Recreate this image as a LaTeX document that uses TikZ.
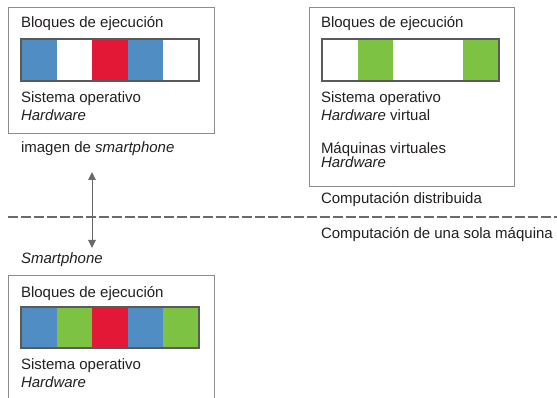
\documentclass[tikz,border=0pt]{standalone}
\usepackage{fontspec}
\setmainfont{Liberation Sans}
\usetikzlibrary{arrows.meta}
\definecolor{cblue}{HTML}{4F8DC3}
\definecolor{cred}{HTML}{E31837}
\definecolor{cgreen}{HTML}{7DC242}
\definecolor{cframe}{HTML}{8C8C8C}
\definecolor{cstrip}{HTML}{5A5A5A}
\definecolor{cline}{HTML}{6A6A6A}
\definecolor{ctext}{HTML}{231F20}
\tikzset{
  lbl/.style={anchor=base west, inner sep=0pt, outer sep=0pt, text=ctext, font=\fontsize{15}{17}\selectfont},
  frame/.style={draw=cframe, line width=1pt},
  strip/.style={draw=cstrip, line width=1.8pt},
  divider/.style={draw=cline, line width=2.2pt, dash pattern=on 9.5pt off 3.5pt},
  link/.style={draw=cline, line width=1pt, {Triangle[width=7.5pt,length=8pt]}-{Triangle[width=7.5pt,length=8pt]}},
}
\begin{document}
\begin{tikzpicture}[x=1pt,y=-1pt]
\useasboundingbox (0,0) rectangle (557,398);
\begin{scope}
\clip (0,0) rectangle (557,398);
% top-left box
\draw[frame] (8,8) rectangle (214,134);
\node[lbl] (tlb) at (21,28) {Bloques de ejecución};
\fill[cblue] (21,39) rectangle (56.6,81);
\fill[cred] (92.2,39) rectangle (127.8,81);
\fill[cblue] (127.8,39) rectangle (163.4,81);
\draw[strip] (21,39) rectangle (199,81);
\node[lbl] (tls) at (21,103) {Sistema operativo};
\node[lbl] (tlh) at (21,121) {\itshape Hardware};
\node[lbl] (img) at (21,153) {imagen de \textit{smartphone}};
% right box
\draw[frame] (309,8) rectangle (514,187);
\node[lbl] (rb) at (321,28) {Bloques de ejecución};
\fill[cgreen] (357.6,39) rectangle (393.2,81);
\fill[cgreen] (463,39) rectangle (499,81);
\draw[strip] (322,39) rectangle (499,81);
\node[lbl] (rs) at (321,103) {Sistema operativo};
\node[lbl] (rh) at (321,121) {\textit{Hardware} virtual};
\node[lbl] (rm) at (321,154) {Máquinas virtuales};
\node[lbl] (rhw) at (321,168) {\itshape Hardware};
\node[lbl] (cd) at (321,204) {Computación distribuida};
% divider
\coordinate (dl) at (8,217);
\coordinate (dr) at (557,217);
\draw[divider] (dl) -- (dr);
\node[lbl] (cu) at (321,239) {Computación de una sola máquina};
% arrow
\coordinate (at) at (92,172);
\coordinate (ab) at (92,248);
\draw[link] (at) -- (ab);
% bottom box
\node[lbl] (sp) at (21,264) {\itshape Smartphone};
\draw[frame] (8,275) rectangle (214,410);
\node[lbl] (bb) at (21,297) {Bloques de ejecución};
\fill[cblue] (21,307) rectangle (56.6,348);
\fill[cgreen] (56.6,307) rectangle (92.2,348);
\fill[cred] (92.2,307) rectangle (127.8,348);
\fill[cblue] (127.8,307) rectangle (163.4,348);
\fill[cgreen] (163.4,307) rectangle (199,348);
\draw[strip] (21,307) rectangle (199,348);
\node[lbl] (bs) at (21,369) {Sistema operativo};
\node[lbl] (bh) at (21,387) {\itshape Hardware};
\end{scope}
\end{tikzpicture}
\end{document}
